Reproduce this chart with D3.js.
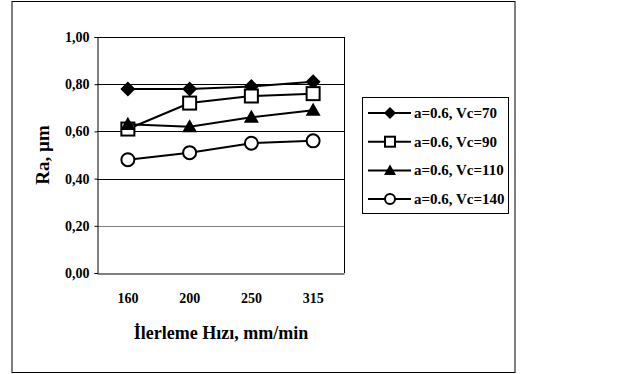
<!DOCTYPE html>
<html>
<head>
<meta charset="utf-8">
<script src="https://cdn.jsdelivr.net/npm/d3@7"></script>
<style>
  body { margin: 0; background: #fff; }
  svg text { font-family: "Liberation Serif", "Times New Roman", serif; font-weight: bold; }
</style>
</head>
<body>
<svg id="chart" width="629" height="374"></svg>
<script>
var w = 629;
var h = 374;

// data
var feeds = ["160", "200", "250", "315"];
var seriesNames = ["a=0.6, Vc=70", "a=0.6, Vc=90", "a=0.6, Vc=110", "a=0.6, Vc=140"];
var vc70 = [0.78, 0.78, 0.79, 0.81];
var vc90 = [0.61, 0.72, 0.75, 0.76];
var vc110 = [0.63, 0.62, 0.66, 0.69];
var vc140 = [0.48, 0.51, 0.55, 0.56];
var yTicks = [0, 0.2, 0.4, 0.6, 0.8, 1.0];
var markerTypes = ["diamond", "square", "triangle", "circle"];

var allSeries = [vc70, vc90, vc110, vc140];
var svg = d3.select("#chart");

var plot = { left: 97, right: 344, top: 37, bottom: 273 };

// outer frame
svg.append("rect")
  .attr("x", 12).attr("y", 1.5)
  .attr("width", 503).attr("height", 371)
  .attr("fill", "none").attr("stroke", "#000").attr("stroke-width", 1);

var xScale = d3.scaleBand().domain(feeds).range([plot.left, plot.right]);
var yScale = d3.scaleLinear().domain([0, 1]).range([plot.bottom, plot.top]);

// gridlines
svg.selectAll("line.grid")
  .data(yTicks.filter(d => d > 0))
  .join("line")
  .attr("class", "grid")
  .attr("x1", plot.left).attr("x2", plot.right)
  .attr("y1", d => Math.round(yScale(d)) + 0.5)
  .attr("y2", d => Math.round(yScale(d)) + 0.5)
  .attr("stroke", d => Math.abs(d - 0.2) < 1e-6 ? "#808080" : "#000")
  .attr("stroke-width", 1);

// right border of plot area
svg.append("line")
  .attr("x1", plot.right + 0.5).attr("x2", plot.right + 0.5)
  .attr("y1", plot.top).attr("y2", plot.bottom)
  .attr("stroke", "#000");

var yAxis = d3.axisLeft(yScale)
  .tickValues(yTicks)
  .tickSize(3)
  .tickPadding(5)
  .tickFormat(d => d3.format(".2f")(d).replace(".", ","));

var gy = svg.append("g")
  .attr("transform", "translate(" + (plot.left + 0.5) + ",0)")
  .call(yAxis);
gy.select(".domain").attr("stroke", "#000");
gy.selectAll("text").attr("font-size", 14).attr("fill", "#000")
  .style("font-family", "'Liberation Serif', serif").style("font-weight", "bold");

var xAxis = d3.axisBottom(xScale).tickSize(0).tickPadding(20);
var gx = svg.append("g")
  .attr("transform", "translate(0," + (plot.bottom + 0.5) + ")")
  .call(xAxis);
gx.select(".domain").attr("stroke", "#000");
gx.selectAll("text").attr("font-size", 14).attr("fill", "#000")
  .style("font-family", "'Liberation Serif', serif").style("font-weight", "bold");

// axis titles
svg.append("text")
  .attr("x", 221)
  .attr("y", 339)
  .attr("text-anchor", "middle")
  .attr("font-size", 18)
  .text("İlerleme Hızı, mm/min");

svg.append("text")
  .attr("transform", "translate(49,155) rotate(-90)")
  .attr("text-anchor", "middle")
  .attr("font-size", 19)
  .text("Ra, µm");

function drawMarker(g, type, x, y, s) {
  // s = half-size of marker
  if (type === "diamond") {
    g.append("path")
      .attr("d", "M" + x + "," + (y - s) + "L" + (x + s) + "," + y + "L" + x + "," + (y + s) + "L" + (x - s) + "," + y + "Z")
      .attr("fill", "#000");
  } else if (type === "square") {
    var q = s - 1;
    g.append("rect").attr("x", x - q).attr("y", y - q)
      .attr("width", 2 * q).attr("height", 2 * q)
      .attr("fill", "#fff").attr("stroke", "#000").attr("stroke-width", 2);
  } else if (type === "triangle") {
    g.append("path")
      .attr("d", "M" + x + "," + (y - s) + "L" + (x + s) + "," + (y + s * 0.75) + "L" + (x - s) + "," + (y + s * 0.75) + "Z")
      .attr("fill", "#000");
  } else {
    g.append("circle").attr("cx", x).attr("cy", y).attr("r", s - 1)
      .attr("fill", "#fff").attr("stroke", "#000").attr("stroke-width", 2);
  }
}

var line = d3.line()
  .x((d, i) => xScale(feeds[i]) + xScale.bandwidth() / 2)
  .y(d => yScale(d));

// draw series: line then markers
allSeries.forEach(function (vals, si) {
  var g = svg.append("g");
  g.append("path").datum(vals)
    .attr("d", line)
    .attr("fill", "none").attr("stroke", "#000").attr("stroke-width", 2);
  vals.forEach(function (v, i) {
    drawMarker(g, markerTypes[si], xScale(feeds[i]) + xScale.bandwidth() / 2, yScale(v), 7.5);
  });
});

// legend
var legend = svg.append("g");
legend.append("rect")
  .attr("x", 362.5).attr("y", 97.5)
  .attr("width", 146).attr("height", 116)
  .attr("fill", "#fff").attr("stroke", "#000");

seriesNames.forEach(function (name, i) {
  var ly = 113 + i * 28.7;
  legend.append("line")
    .attr("x1", 368).attr("x2", 411)
    .attr("y1", ly).attr("y2", ly)
    .attr("stroke", "#000").attr("stroke-width", 2);
  drawMarker(legend, markerTypes[i], 390, ly, 6);
  legend.append("text")
    .attr("x", 414).attr("y", ly + 5)
    .attr("font-size", 15)
    .text(name);
});
</script>
</body>
</html>
